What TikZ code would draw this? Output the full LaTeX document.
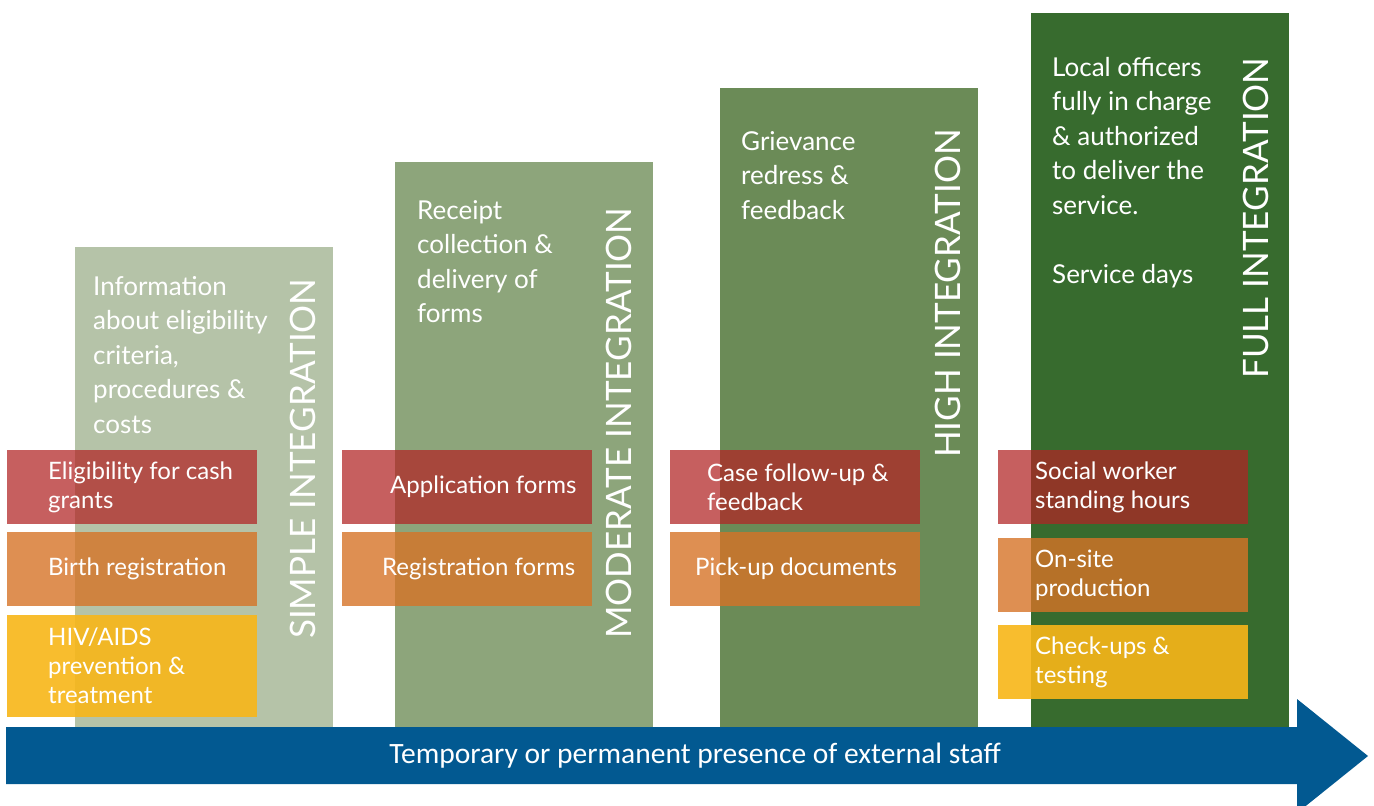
\documentclass[tikz,border=0pt]{standalone}
\usepackage{fontspec}
\setmainfont{Lato}
\newfontfamily\arrowfont{Carlito}
\usetikzlibrary{positioning}

\definecolor{simplegreen}{RGB}{181,195,168}
\definecolor{moderategreen}{RGB}{141,165,123}
\definecolor{highgreen}{RGB}{107,139,87}
\definecolor{fullgreen}{RGB}{55,107,46}
\definecolor{staffblue}{RGB}{2,89,145}
\definecolor{itemred}{RGB}{177,37,37}
\definecolor{itemorange}{RGB}{214,115,39}
\definecolor{itemyellow}{RGB}{248,182,24}

\tikzset{
  column/.style={rectangle, anchor=north west, minimum width=258pt, inner sep=0pt},
  item/.style={rectangle, anchor=north west, minimum width=250pt, minimum height=74pt, inner sep=0pt},
  redbox/.style={item, fill=itemred, fill opacity=0.73},
  orangebox/.style={item, fill=itemorange, fill opacity=0.8},
  yellowbox/.style={item, fill=itemyellow, fill opacity=0.9},
  itemtext/.style={anchor=west, text=white, align=left, inner sep=0pt,
    font=\fontsize{24}{29}\selectfont},
  coltext/.style={anchor=north west, text=white, align=left, inner sep=0pt,
    font=\fontsize{26}{34.5}\selectfont},
  stage/.style={anchor=base west, rotate=90, text=white, inner sep=0pt,
    font=\fontsize{35}{35}\selectfont}
}

\begin{document}
\begin{tikzpicture}[x=1pt,y=-1pt]
  \clip (0,0) rectangle (1374,806);
  \fill[white] (0,0) rectangle (1374,806);

% the four integration levels
  \node[column, fill=simplegreen, minimum height=480pt] (simple) at (75,247) {};
  \node[column, fill=moderategreen, minimum height=565pt] (moderate) at (395,162) {};
  \node[column, fill=highgreen, minimum height=639pt] (high) at (720,88) {};
  \node[column, fill=fullgreen, minimum height=714pt] (full) at (1031,13) {};

  \node[coltext] (simpletxt) at (93,276) {Information\\about eligibility\\criteria,\\procedures \&\\costs};
  \node[coltext] (moderatetxt) at (417,200) {Receipt\\collection \&\\delivery of\\forms};
  \node[coltext] (hightxt) at (741,131) {Grievance\\redress \&\\feedback};
  \node[coltext] (fulltxt) at (1052,57) {Local officers\\fully in charge\\\& authorized\\to deliver the\\service.\\[34.5pt]Service days};

  \node[stage] (simplelbl) at (315,639) {SIMPLE INTEGRATION};
  \node[stage] (moderatelbl) at (631,639) {MODERATE INTEGRATION};
  \node[stage] (highlbl) at (960,458) {HIGH INTEGRATION};
  \node[stage] (fulllbl) at (1268,379) {FULL INTEGRATION};

% services
  \node[redbox] (red1) at (7,450) {};
  \node[orangebox] (orange1) at (7,532) {};
  \node[yellowbox, minimum height=102pt] (yellow1) at (7,615) {};
  \node[itemtext, right=41pt of red1.west] (redtxt1) {Eligibility for cash\\grants};
  \node[itemtext, right=41pt of orange1.west] (orangetxt1) {Birth registration};
  \node[itemtext, right=41pt of yellow1.west] (yellowtxt1) {HIV/AIDS\\prevention \&\\treatment};

  \node[redbox] (red2) at (342,450) {};
  \node[orangebox] (orange2) at (342,532) {};
  \node[itemtext, right=48pt of red2.west] (redtxt2) {Application forms};
  \node[itemtext, right=40pt of orange2.west] (orangetxt2) {Registration forms};

  \node[redbox] (red3) at (670,450) {};
  \node[orangebox] (orange3) at (670,532) {};
  \node[itemtext, right=37pt of red3.west] (redtxt3) {Case follow-up \&\\feedback};
  \node[itemtext, right=25pt of orange3.west] (orangetxt3) {Pick-up documents};

  \node[redbox] (red4) at (998,450) {};
  \node[orangebox] (orange4) at (998,538) {};
  \node[yellowbox] (yellow4) at (998,625) {};
  \node[itemtext, right=37pt of red4.west] (redtxt4) {Social worker\\standing hours};
  \node[itemtext, right=37pt of orange4.west] (orangetxt4) {On-site\\production};
  \node[itemtext, right=37pt of yellow4.west] (yellowtxt4) {Check-ups \&\\testing};

% presence of external staff
  \fill[staffblue] (6,727) -- (1297,727) -- (1297,699) -- (1368,756) -- (1297,813) -- (1297,784) -- (6,784) -- cycle;
  \node[text=white, font=\arrowfont\fontsize{29.5}{29.5}\selectfont] (staff) at (695,756) {Temporary or permanent presence of external staff};
\end{tikzpicture}
\end{document}
